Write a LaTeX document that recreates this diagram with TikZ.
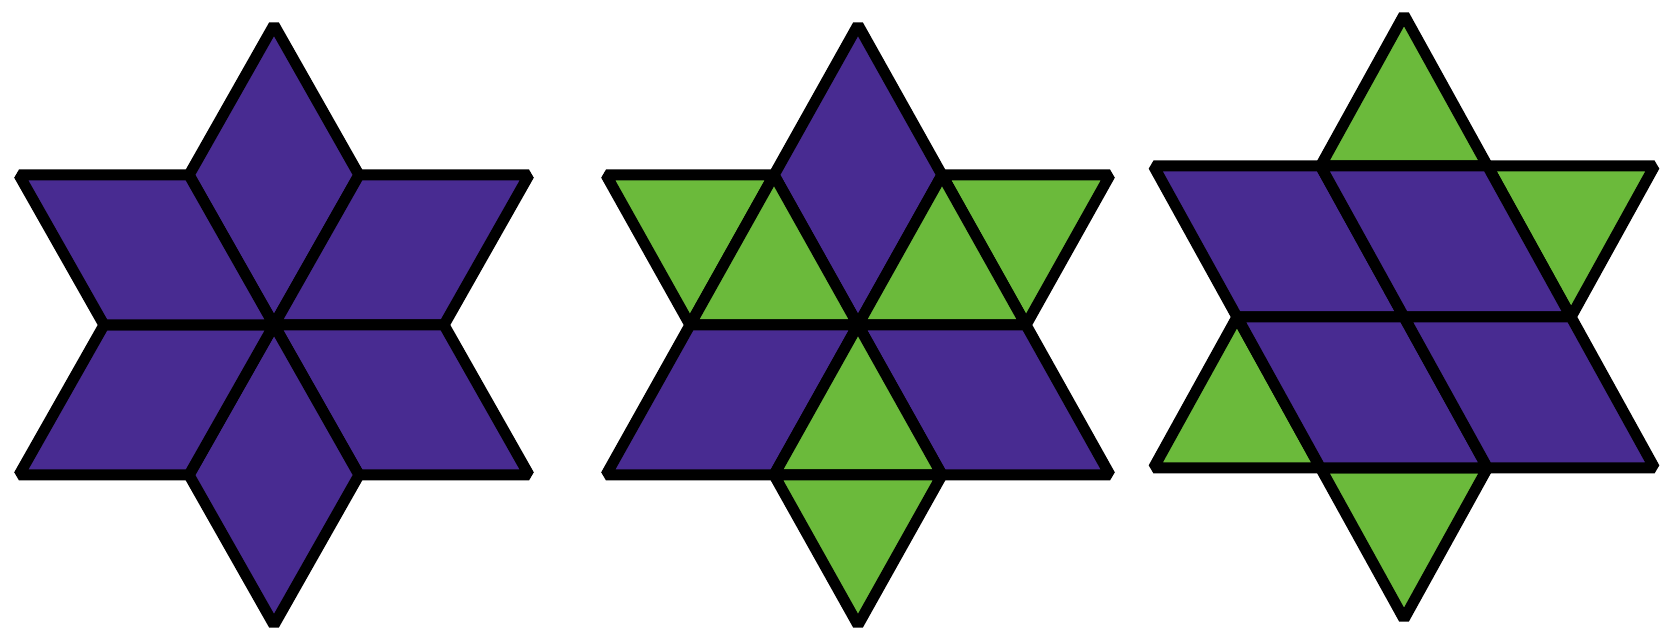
\documentclass[tikz,border=0pt]{standalone}
\usepackage{tikz}
\definecolor{starpurple}{RGB}{72,43,145}
\definecolor{stargreen}{RGB}{107,186,59}

\begin{document}
\begin{tikzpicture}[x=1pt,y=1pt,
        purp/.style={fill=starpurple,draw=black,line width=11pt,line join=bevel},
        grn/.style={fill=stargreen,draw=black,line width=11pt,line join=bevel}]
        \useasboundingbox (0,0) rectangle (1661,628);
        % star of six rhombi
        \begin{scope}[shift={(274pt,303pt)},x=85pt,y=150pt]
            \filldraw[purp] (0,0) -- (1,1) -- (0,2) -- (-1,1) -- cycle;
            \filldraw[purp] (0,0) -- (2,0) -- (3,1) -- (1,1) -- cycle;
            \filldraw[purp] (0,0) -- (1,-1) -- (3,-1) -- (2,0) -- cycle;
            \filldraw[purp] (0,0) -- (-1,-1) -- (0,-2) -- (1,-1) -- cycle;
            \filldraw[purp] (0,0) -- (-2,0) -- (-3,-1) -- (-1,-1) -- cycle;
            \filldraw[purp] (0,0) -- (-1,1) -- (-3,1) -- (-2,0) -- cycle;
        \end{scope}
        % three rhombi, six triangles
        \begin{scope}[shift={(858pt,303pt)},x=84pt,y=150pt]
            \filldraw[purp] (0,0) -- (1,1) -- (0,2) -- (-1,1) -- cycle;
            \filldraw[grn] (-3,1) -- (-1,1) -- (-2,0) -- cycle;
            \filldraw[grn] (0,0) -- (-1,1) -- (-2,0) -- cycle;
            \filldraw[grn] (3,1) -- (1,1) -- (2,0) -- cycle;
            \filldraw[grn] (0,0) -- (1,1) -- (2,0) -- cycle;
            \filldraw[purp] (-2,0) -- (0,0) -- (-1,-1) -- (-3,-1) -- cycle;
            \filldraw[purp] (0,0) -- (2,0) -- (3,-1) -- (1,-1) -- cycle;
            \filldraw[grn] (0,0) -- (-1,-1) -- (1,-1) -- cycle;
            \filldraw[grn] (-1,-1) -- (1,-1) -- (0,-2) -- cycle;
        \end{scope}
        % four rhombi, four triangles
        \begin{scope}[shift={(1404pt,311pt)},x=83.5pt,y=151pt]
            \filldraw[grn] (0,2) -- (-1,1) -- (1,1) -- cycle;
            \filldraw[grn] (1,1) -- (3,1) -- (2,0) -- cycle;
            \filldraw[grn] (-2,0) -- (-1,-1) -- (-3,-1) -- cycle;
            \filldraw[grn] (-1,-1) -- (1,-1) -- (0,-2) -- cycle;
            \filldraw[purp] (-3,1) -- (-1,1) -- (0,0) -- (-2,0) -- cycle;
            \filldraw[purp] (-1,1) -- (1,1) -- (2,0) -- (0,0) -- cycle;
            \filldraw[purp] (-2,0) -- (0,0) -- (1,-1) -- (-1,-1) -- cycle;
            \filldraw[purp] (0,0) -- (2,0) -- (3,-1) -- (1,-1) -- cycle;
        \end{scope}
\end{tikzpicture}
\end{document}
